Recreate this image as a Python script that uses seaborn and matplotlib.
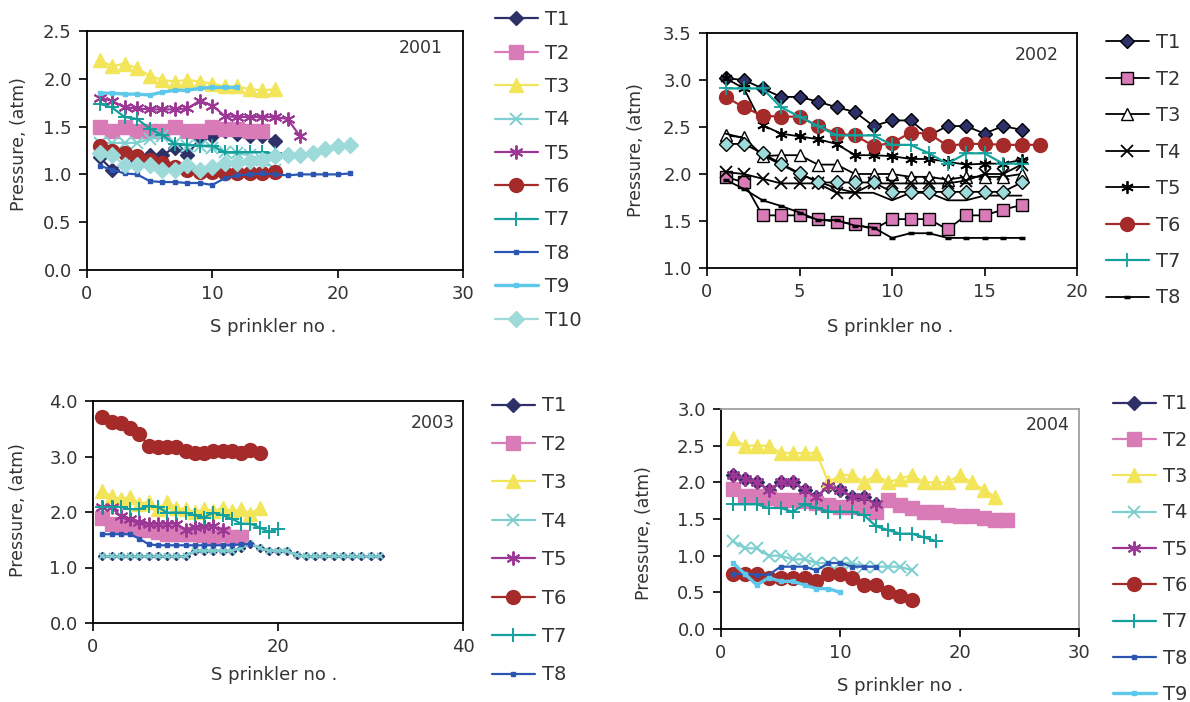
import matplotlib
matplotlib.use("Agg")
import matplotlib.pyplot as plt
import seaborn as sns
import pandas as pd

sns.set_theme(style="white")
plt.rcParams['font.family'] = ['DejaVu Sans']
plt.rcParams['text.color'] = '#333333'
plt.rcParams['axes.labelcolor'] = '#333333'
plt.rcParams['xtick.color'] = '#000000'
plt.rcParams['ytick.color'] = '#000000'

# ---------------- data ----------------
years = ["2001", "2002", "2003", "2004"]
x_label = "S prinkler no ."
y_label = "Pressure, (atm)"

# 2001
p01_T1 = [1.18, 1.05, 1.10, 1.15, 1.20, 1.20, 1.28, 1.20, 1.38, 1.40, 1.45, 1.42, 1.40, 1.40, 1.35]
p01_T2 = [1.50, 1.45, 1.50, 1.45, 1.45, 1.45, 1.50, 1.45, 1.45, 1.50, 1.48, 1.47, 1.45, 1.45]
p01_T3 = [2.20, 2.13, 2.16, 2.11, 2.03, 1.99, 1.97, 1.99, 1.97, 1.95, 1.92, 1.92, 1.89, 1.88, 1.89]
p01_T4 = [1.33, 1.33, 1.33, 1.33, 1.37, 1.40, 1.33, 1.30, 1.30, 1.28, 1.23, 1.22, 1.20, 1.15, 1.05]
p01_T5 = [1.80, 1.77, 1.70, 1.69, 1.68, 1.68, 1.68, 1.69, 1.77, 1.72, 1.61, 1.60, 1.60, 1.60, 1.60, 1.58, 1.40]
p01_T6 = [1.30, 1.24, 1.22, 1.19, 1.15, 1.12, 1.08, 1.05, 1.03, 1.03, 1.01, 1.01, 1.01, 1.01, 1.02]
p01_T7 = [1.74, 1.70, 1.60, 1.58, 1.48, 1.41, 1.32, 1.31, 1.30, 1.30, 1.23, 1.23, 1.23, 1.23, 1.22]
p01_T8 = [1.09, 1.05, 1.01, 1.00, 0.93, 0.92, 0.92, 0.91, 0.91, 0.89, 0.96, 0.99, 1.00, 1.01, 1.00,
          0.99, 1.00, 1.00, 1.00, 1.00, 1.01]
p01_T9 = [1.85, 1.85, 1.84, 1.84, 1.83, 1.86, 1.88, 1.88, 1.90, 1.91, 1.91, 1.91]
p01_T10 = [1.22, 1.20, 1.10, 1.10, 1.10, 1.05, 1.05, 1.10, 1.05, 1.08, 1.12, 1.12, 1.14, 1.15, 1.19,
           1.20, 1.20, 1.22, 1.27, 1.30, 1.31]

# 2002
p02_T1 = [3.02, 3.00, 2.91, 2.82, 2.82, 2.77, 2.71, 2.66, 2.51, 2.57, 2.57, 2.41, 2.51, 2.51, 2.43, 2.51, 2.47]
p02_T2 = [1.97, 1.91, 1.56, 1.56, 1.56, 1.52, 1.49, 1.47, 1.41, 1.52, 1.52, 1.52, 1.41, 1.56, 1.56, 1.62, 1.67]
p02_T3 = [2.41, 2.39, 2.19, 2.20, 2.20, 2.10, 2.10, 2.00, 2.00, 2.00, 1.97, 1.97, 1.94, 1.97, 1.97, 1.97, 2.00]
p02_T4 = [2.02, 2.00, 1.95, 1.90, 1.90, 1.90, 1.80, 1.80, 1.90, 1.90, 1.90, 1.90, 1.90, 1.93, 2.00, 2.00, 2.10]
p02_T5 = [3.02, 2.91, 2.52, 2.43, 2.40, 2.37, 2.32, 2.20, 2.20, 2.19, 2.16, 2.16, 2.13, 2.10, 2.11, 2.11, 2.15]
p02_T6 = [2.82, 2.71, 2.62, 2.61, 2.61, 2.51, 2.43, 2.41, 2.30, 2.33, 2.44, 2.43, 2.30, 2.32, 2.32, 2.31,
          2.31, 2.31]
p02_T7 = [2.91, 2.91, 2.91, 2.71, 2.61, 2.51, 2.41, 2.41, 2.41, 2.31, 2.31, 2.22, 2.11, 2.22, 2.22, 2.11, 2.11]
p02_T8 = [1.94, 1.84, 1.72, 1.66, 1.59, 1.51, 1.51, 1.45, 1.43, 1.32, 1.37, 1.37, 1.32, 1.32, 1.32, 1.32, 1.32]
p02_T9 = [2.43, 2.38, 2.20, 2.10, 2.00, 1.92, 1.85, 1.80, 1.80, 1.72, 1.80, 1.80, 1.72, 1.72, 1.77, 1.77, 1.77]
p02_T10 = [2.32, 2.32, 2.22, 2.11, 2.01, 1.91, 1.91, 1.91, 1.91, 1.81, 1.81, 1.81, 1.81, 1.81, 1.81, 1.81, 1.91]

# 2003
p03_T1 = [1.20, 1.20, 1.20, 1.20, 1.20, 1.20, 1.20, 1.20, 1.20, 1.20, 1.30, 1.30, 1.30, 1.30, 1.30,
          1.35, 1.43, 1.35, 1.30, 1.30, 1.30, 1.22, 1.20, 1.20, 1.20, 1.20, 1.20, 1.20, 1.20, 1.20, 1.20]
p03_T2 = [1.90, 1.79, 1.76, 1.73, 1.70, 1.67, 1.64, 1.61, 1.61, 1.60, 1.60, 1.58, 1.55, 1.60, 1.55, 1.55]
p03_T3 = [2.38, 2.28, 2.24, 2.27, 2.15, 2.18, 2.05, 2.18, 2.07, 2.05, 2.00, 2.05, 2.02, 2.07, 2.02, 2.05,
          1.97, 2.07]
p03_T4 = [1.20, 1.20, 1.20, 1.20, 1.20, 1.20, 1.20, 1.20, 1.20, 1.20, 1.30, 1.30, 1.30, 1.30, 1.30,
          1.35, 1.43, 1.35, 1.30, 1.30, 1.30, 1.22, 1.20, 1.20, 1.20, 1.20, 1.20, 1.20, 1.20, 1.20, 1.20]
p03_T5 = [2.09, 2.09, 1.92, 1.88, 1.82, 1.79, 1.79, 1.79, 1.79, 1.68, 1.73, 1.74, 1.74, 1.68]
p03_T6 = [3.71, 3.63, 3.60, 3.51, 3.41, 3.19, 3.17, 3.17, 3.17, 3.10, 3.06, 3.06, 3.10, 3.10, 3.10, 3.06,
          3.12, 3.06]
p03_T7 = [2.09, 2.09, 2.09, 2.05, 2.05, 2.11, 2.09, 1.99, 1.99, 1.99, 1.94, 1.90, 1.99, 1.94, 1.88, 1.79,
          1.79, 1.72, 1.64, 1.70]
p03_T8 = [1.60, 1.60, 1.60, 1.60, 1.52, 1.42, 1.40, 1.40, 1.40, 1.40, 1.40, 1.40, 1.40, 1.40, 1.40, 1.42, 1.42]

# 2004
p04_T1 = [2.10, 2.05, 2.00, 1.90, 2.00, 2.00, 1.90, 1.80, 1.95, 1.90, 1.80, 1.80, 1.70]
p04_T2 = [1.91, 1.81, 1.81, 1.79, 1.76, 1.76, 1.74, 1.72, 1.69, 1.67, 1.67, 1.65, 1.60, 1.76, 1.69, 1.65,
          1.60, 1.60, 1.56, 1.54, 1.54, 1.51, 1.49, 1.49]
p04_T3 = [2.60, 2.50, 2.50, 2.50, 2.40, 2.40, 2.40, 2.40, 2.00, 2.10, 2.10, 2.00, 2.10, 2.00, 2.05, 2.10,
          2.00, 2.00, 2.00, 2.10, 2.00, 1.90, 1.80]
p04_T4 = [1.20, 1.10, 1.10, 1.00, 1.00, 0.95, 0.95, 0.90, 0.90, 0.90, 0.90, 0.85, 0.85, 0.85, 0.85, 0.80]
p04_T5 = [2.10, 2.05, 2.00, 1.90, 2.00, 2.00, 1.90, 1.80, 1.95, 1.90, 1.80, 1.80, 1.70]
p04_T6 = [0.75, 0.75, 0.75, 0.70, 0.70, 0.70, 0.70, 0.65, 0.75, 0.75, 0.70, 0.60, 0.60, 0.50, 0.45, 0.40]
p04_T7 = [1.70, 1.70, 1.70, 1.65, 1.65, 1.60, 1.70, 1.65, 1.60, 1.60, 1.60, 1.55, 1.40, 1.35, 1.30, 1.30,
          1.25, 1.20]
p04_T8 = [0.75, 0.75, 0.74, 0.74, 0.85, 0.85, 0.85, 0.80, 0.90, 0.90, 0.85, 0.85, 0.85]
p04_T9 = [0.90, 0.75, 0.60, 0.70, 0.65, 0.65, 0.60, 0.55, 0.55, 0.50]

# axis settings per panel
xticks_01 = [0, 10, 20, 30]
yticks_01 = [0.0, 0.5, 1.0, 1.5, 2.0, 2.5]
xticks_02 = [0, 5, 10, 15, 20]
yticks_02 = [1.0, 1.5, 2.0, 2.5, 3.0, 3.5]
xticks_03 = [0, 20, 40]
yticks_03 = [0.0, 1.0, 2.0, 3.0, 4.0]
xticks_04 = [0, 10, 20, 30]
yticks_04 = [0.0, 0.5, 1.0, 1.5, 2.0, 2.5, 3.0]

# ---------------- styles ----------------
C = {
    'T1': '#2E3068', 'T2': '#D87BB7', 'T3': '#F3E55A', 'T4': '#7ECFCF',
    'T5': '#9C3795', 'T6': '#A52A2A', 'T7': '#14A09C', 'T8': '#2A56B2',
    'T9': '#5DC8EA', 'T10': '#9FDADA',
}
AST = (6, 2, 0)


def col_style(name, small=False):
    c = C[name]
    base = dict(color=c, linewidth=1.6, markeredgecolor=c, markerfacecolor=c, markeredgewidth=1.0)
    m = {
        'T1': dict(marker='D', markersize=4 if small else 7),
        'T2': dict(marker='s', markersize=10),
        'T3': dict(marker='^', markersize=10),
        'T4': dict(marker='x', markersize=5 if small else 9, markeredgewidth=1.4),
        'T5': dict(marker=AST, markersize=10, markeredgewidth=1.4),
        'T6': dict(marker='o', markersize=10),
        'T7': dict(marker='+', markersize=10, markeredgewidth=1.4),
        'T8': dict(marker='s', markersize=2.5),
        'T9': dict(marker='s', markersize=3.5, linewidth=2.4),
        'T10': dict(marker='D', markersize=8),
    }[name]
    base.update(m)
    return base


def bw_style(name):
    k = '#000000'
    base = dict(color=k, linewidth=1.3, markeredgecolor=k, markeredgewidth=1.0)
    m = {
        'T1': dict(marker='D', markersize=7, markerfacecolor=C['T1']),
        'T2': dict(marker='s', markersize=9, markerfacecolor=C['T2']),
        'T3': dict(marker='^', markersize=8, markerfacecolor='white'),
        'T4': dict(marker='x', markersize=8, markerfacecolor=k, markeredgewidth=1.3),
        'T5': dict(marker=AST, markersize=9, markerfacecolor=k, markeredgewidth=1.3),
        'T6': dict(marker='o', markersize=10, markerfacecolor=C['T6'], markeredgecolor=C['T6'],
                   color=C['T6'], linewidth=1.6),
        'T7': dict(marker='+', markersize=10, markerfacecolor=C['T7'], markeredgecolor=C['T7'],
                   color=C['T7'], linewidth=1.6, markeredgewidth=1.3),
        'T8': dict(marker='_', markersize=5, markerfacecolor=k, markeredgewidth=2.5),
        'T9': dict(marker='None'),
        'T10': dict(marker='D', markersize=7, markerfacecolor=C['T10']),
    }[name]
    base.update(m)
    return base


def draw(ax, series, stylefn, no_legend=()):
    for name, vals, kw in series:
        df = pd.DataFrame({'x': list(range(1, len(vals) + 1)), 'y': vals})
        lab = '_' + name if name in no_legend else name
        sns.lineplot(data=df, x='x', y='y', ax=ax, errorbar=None, sort=False,
                     label=lab, **stylefn(name, **kw))


fig = plt.figure(figsize=(11.9, 7.02), dpi=100)

W, H = 1190.0, 702.0


def add_ax(l, r, t, b):
    return fig.add_axes([l / W, 1 - b / H, (r - l) / W, (b - t) / H])


ax1 = add_ax(87, 463, 31, 270)
ax2 = add_ax(707, 1077, 33, 268)
ax3 = add_ax(93, 463, 401, 623)
ax4 = add_ax(721, 1079, 409, 629)

draw(ax1, [('T1', p01_T1, {}), ('T2', p01_T2, {}), ('T3', p01_T3, {}), ('T4', p01_T4, {}),
           ('T5', p01_T5, {}), ('T6', p01_T6, {}), ('T7', p01_T7, {}), ('T8', p01_T8, {}),
           ('T9', p01_T9, {}), ('T10', p01_T10, {})], col_style)

draw(ax2, [('T1', p02_T1, {}), ('T2', p02_T2, {}), ('T3', p02_T3, {}), ('T4', p02_T4, {}),
           ('T5', p02_T5, {}), ('T6', p02_T6, {}), ('T7', p02_T7, {}), ('T8', p02_T8, {}),
           ('T9', p02_T9, {}), ('T10', p02_T10, {})], bw_style, no_legend=('T9', 'T10'))

draw(ax3, [('T1', p03_T1, {'small': True}), ('T2', p03_T2, {}), ('T3', p03_T3, {}),
           ('T4', p03_T4, {'small': True}), ('T5', p03_T5, {}), ('T6', p03_T6, {}),
           ('T7', p03_T7, {}), ('T8', p03_T8, {})], col_style)

draw(ax4, [('T1', p04_T1, {}), ('T2', p04_T2, {}), ('T3', p04_T3, {}), ('T4', p04_T4, {}),
           ('T5', p04_T5, {}), ('T6', p04_T6, {}), ('T7', p04_T7, {}), ('T8', p04_T8, {}),
           ('T9', p04_T9, {})], col_style)

panels = [
    (ax1, (0, 30), (0, 2.5), xticks_01, yticks_01, years[0], (0.947, 0.929),
     (-0.181, 0.527), (0.495, -0.238), (495, 21, 33.8)),
    (ax2, (0, 20), (1.0, 3.5), xticks_02, yticks_02, years[1], (0.951, 0.906),
     (-0.192, 0.50), (0.495, -0.251), (1106, 44, 36.9)),
    (ax3, (0, 40), (0, 4.0), xticks_03, yticks_03, years[2], (0.978, 0.90),
     (-0.203, 0.51), (0.49, -0.234), (492, 407, 38.9)),
    (ax4, (0, 30), (0, 3.0), xticks_04, yticks_04, years[3], (0.975, 0.927),
     (-0.215, 0.436), (0.50, -0.259), (1113, 405, 36.8)),
]

LEG_FS = 14
fs_px = LEG_FS * 100 / 72.0

for ax, xl, yl, xt, yt, yr, yrpos, ylpos, xlpos, leg in panels:
    ax.set_xlim(*xl)
    ax.set_ylim(*yl)
    ax.set_xticks(xt)
    ax.set_yticks(yt)
    ax.set_xticklabels([str(v) for v in xt])
    ax.set_yticklabels(["%.1f" % v for v in yt])
    ax.tick_params(axis='both', which='major', direction='out', length=6, width=1.2,
                   labelsize=13, labelcolor='#333333', pad=5,
                   bottom=True, left=True, top=False, right=False)
    for s in ax.spines.values():
        s.set_color('black')
        s.set_linewidth(1.3)
    ax.set_facecolor('white')
    ax.set_xlabel(x_label, fontsize=13)
    ax.set_ylabel(y_label, fontsize=12.5)
    ax.xaxis.set_label_coords(*xlpos)
    ax.yaxis.set_label_coords(*ylpos)
    ax.xaxis.label.set_va('center')
    ax.yaxis.label.set_va('center')
    ax.text(yrpos[0], yrpos[1], yr, transform=ax.transAxes, ha='right', va='center',
            fontsize=12.5, color='#333333')
    handles, labels = ax.get_legend_handles_labels()
    hl = [(h, l) for h, l in zip(handles, labels) if not l.startswith('_')]
    lx, ly, sp = leg
    lsp = (sp - fs_px * 1.0) / fs_px
    lg = ax.legend([h for h, _ in hl], [l for _, l in hl], loc='upper left',
                   bbox_to_anchor=(lx / W, 1 - (ly - fs_px * 0.55) / H),
                   bbox_transform=fig.transFigure, frameon=False, fontsize=LEG_FS,
                   handlelength=2.2, handletextpad=0.35, labelspacing=lsp,
                   borderpad=0, borderaxespad=0, numpoints=1)
    if ax is ax3:
        for h, l in zip(lg.legend_handles, [l for _, l in hl]):
            if l == 'T1':
                h.set_markersize(7)
            if l == 'T4':
                h.set_markersize(9)

for side in ('top', 'right'):
    ax4.spines[side].set_color('#A0A0A0')

fig.savefig("out.png", dpi=100, facecolor='white')
